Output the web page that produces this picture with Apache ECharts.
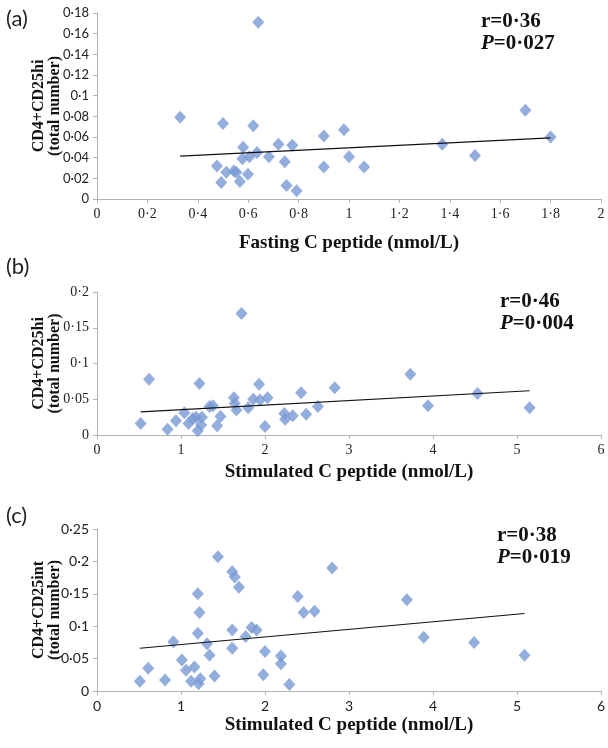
<!DOCTYPE html>
<html><head><meta charset="utf-8">
<script src="https://cdn.jsdelivr.net/npm/echarts@6/dist/echarts.min.js"></script>
<style>html,body{margin:0;padding:0;background:#fff}#c{width:608px;height:748px}</style>
</head><body><div id="c"></div><script>
// Panel (a): fasting C peptide vs CD4+CD25hi
const aX = [0.33,0.64,0.50,0.62,0.58,0.72,0.775,0.635,0.577,0.605,0.682,0.745,0.476,0.513,0.543,0.553,0.599,0.493,0.567,0.752,0.792,0.90,0.98,0.90,1.00,1.06,1.37,1.50,1.70,1.80];
const aY = [0.079,0.171,0.073,0.071,0.050,0.053,0.052,0.045,0.039,0.041,0.041,0.036,0.032,0.026,0.027,0.026,0.024,0.016,0.017,0.013,0.008,0.061,0.067,0.031,0.041,0.031,0.053,0.042,0.086,0.060];
// Panel (b): stimulated C peptide vs CD4+CD25hi
const bX = [0.52,0.62,0.84,0.94,1.04,1.09,1.14,1.18,1.20,1.22,1.24,1.25,1.34,1.38,1.43,1.47,1.63,1.64,1.66,1.72,1.80,1.86,1.93,1.94,2.03,2.00,2.23,2.24,2.33,2.43,2.49,2.63,2.83,3.73,3.94,4.53,5.15];
const bY = [0.016,0.078,0.008,0.020,0.031,0.016,0.023,0.025,0.006,0.072,0.014,0.025,0.040,0.041,0.013,0.026,0.052,0.044,0.035,0.170,0.038,0.050,0.071,0.049,0.052,0.012,0.030,0.022,0.027,0.059,0.029,0.040,0.066,0.085,0.041,0.058,0.038];
// Panel (c): stimulated C peptide vs CD4+CD25int
const cX = [0.51,0.61,0.81,0.91,1.01,1.06,1.12,1.16,1.20,1.22,1.20,1.21,1.23,1.31,1.34,1.40,1.44,1.61,1.64,1.69,1.61,1.61,1.77,1.84,1.90,2.00,1.98,2.19,2.19,2.29,2.39,2.46,2.59,2.80,3.69,3.89,4.49,5.09];
const cY = [0.015,0.035,0.017,0.076,0.048,0.032,0.015,0.037,0.150,0.121,0.089,0.011,0.019,0.073,0.055,0.023,0.207,0.184,0.176,0.160,0.094,0.066,0.084,0.098,0.094,0.061,0.025,0.054,0.042,0.010,0.146,0.121,0.123,0.190,0.141,0.083,0.075,0.055];

const panelLabels = ['(a)','(b)','(c)'];
const xTitles = ['Fasting C peptide (nmol/L)','Stimulated C peptide (nmol/L)','Stimulated C peptide (nmol/L)'];
const yTitles = ['CD4+CD25hi\n(total number)','CD4+CD25hi\n(total number)','CD4+CD25int\n(total number)'];
const rTexts = ['r=0·36','r=0·46','r=0·38'];
const pTexts = ['0·027','0·004','0·019'];
const xMax = [2, 6, 6], xStep = [0.2, 1, 1];
const yMax = [0.18, 0.2, 0.25], yStep = [0.02, 0.05, 0.05];

const xs = [aX, bX, cX], ys = [aY, bY, cY];

function fit(x, y) {
  const n = x.length;
  let sx=0, sy=0, sxx=0, sxy=0;
  for (let i=0;i<n;i++){sx+=x[i];sy+=y[i];sxx+=x[i]*x[i];sxy+=x[i]*y[i];}
  const b = (n*sxy - sx*sy)/(n*sxx - sx*sx);
  const a = (sy - b*sx)/n;
  const lo = Math.min(...x), hi = Math.max(...x);
  return [[lo, a+b*lo],[hi, a+b*hi]];
}
const fmt = v => String(+v.toFixed(3)).replace('.', '\u00b7');

const grids = [
  {left:97, width:504, top:13, height:186},
  {left:97, width:504, top:292, height:143},
  {left:97, width:504, top:529, height:162}
];
const xNameGap = [35, 28, 25];
const xLabelFont = ['Liberation Serif','Liberation Serif','Lato'];
const yLabelFont = ['Lato','Liberation Serif','Lato'];
const yLabelSize = [13, 14, 14];
const panelTop = [8, 256, 505];
const statTop = [11, 291, 525];
const statLeft = [481, 500, 497];

const axisLine = {lineStyle:{color:'#b3b3b3', width:1}};
const option = {
  backgroundColor:'#fff',
  animation:false,
  grid: grids,
  xAxis: grids.map((g,i)=>({
    type:'value', gridIndex:i, min:0, max:xMax[i], interval:xStep[i],
    axisLine:{show:true, onZero:false, ...axisLine},
    axisTick:{show:true, length:4, lineStyle:{color:'#b3b3b3'}},
    splitLine:{show:false},
    axisLabel:{formatter:fmt, color:'#222', fontFamily:xLabelFont[i], fontSize:14, margin:8},
    name:xTitles[i], nameLocation:'middle', nameGap:xNameGap[i], nameMoveOverlap:false,
    nameTextStyle:{fontFamily:'Liberation Serif', fontWeight:'bold', fontSize:19, color:'#111'}
  })),
  yAxis: grids.map((g,i)=>({
    type:'value', gridIndex:i, min:0, max:yMax[i], interval:yStep[i],
    axisLine:{show:true, ...axisLine},
    axisTick:{show:true, length:4, lineStyle:{color:'#b3b3b3'}},
    splitLine:{show:false},
    axisLabel:{formatter:fmt, color:'#222', fontFamily:yLabelFont[i], fontSize:yLabelSize[i], margin:8},
    name:yTitles[i], nameLocation:'middle', nameRotate:90, nameGap:34, nameMoveOverlap:false,
    nameTextStyle:{fontFamily:'Liberation Serif', fontWeight:'bold', fontSize:16, lineHeight:16, color:'#111'}
  })),
  title: [].concat(
    panelLabels.map((t,i)=>({text:t, left:6, top:panelTop[i], padding:0,
      textStyle:{fontFamily:'Lato', fontWeight:'normal', fontSize:22, color:'#222'}})),
    rTexts.map((t,i)=>({text:t+'\n{i|P}='+pTexts[i], left:statLeft[i], top:statTop[i], padding:0,
      textStyle:{fontFamily:'Liberation Serif', fontWeight:'bold', fontSize:21, lineHeight:22, color:'#111',
        rich:{i:{fontFamily:'Liberation Serif', fontStyle:'italic', fontWeight:'bold', fontSize:21, lineHeight:22, color:'#111'}}}}))
  ),
  series: [].concat(
    xs.map((x,i)=>({type:'scatter', xAxisIndex:i, yAxisIndex:i, symbol:'diamond', symbolSize:[12,13],
      itemStyle:{color:'#7899d4'}, data:x.map((v,k)=>[v, ys[i][k]]), z:2})),
    xs.map((x,i)=>({type:'line', xAxisIndex:i, yAxisIndex:i, symbol:'none', silent:true,
      lineStyle:{color:'#111', width:1.2}, data:fit(x, ys[i]), z:3}))
  )
};
const chart = echarts.init(document.getElementById('c'), null, {renderer:'canvas'});
chart.setOption(option);
</script></body></html>
